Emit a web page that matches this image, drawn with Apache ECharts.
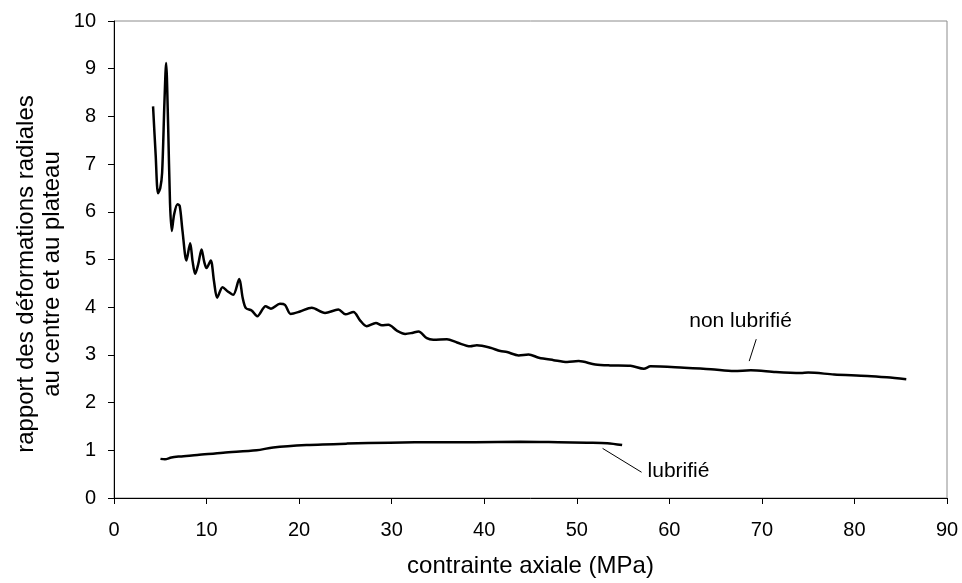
<!DOCTYPE html>
<html>
<head>
<meta charset="utf-8">
<script src="https://cdn.jsdelivr.net/npm/echarts@6/dist/echarts.min.js"></script>
<style>
html,body{margin:0;padding:0;background:#fff;}
#chart{width:962px;height:583px;}
</style>
</head>
<body>
<div id="chart"></div>
<script>
// Tick settings
var xTicks = [0, 10, 20, 30, 40, 50, 60, 70, 80, 90];
var yTicks = [0, 1, 2, 3, 4, 5, 6, 7, 8, 9, 10];

// Series: non lubrifié  [contrainte axiale (MPa), rapport]
var nonLubrifie = [
  [4.22,8.21],[4.5,7.2],[4.76,6.39],[5.0,6.5],[5.2,6.82],[5.45,8.3],[5.63,9.12],
  [5.85,7.8],[6.05,6.2],[6.24,5.6],[6.5,5.95],[6.86,6.16],[7.1,6.12],[7.4,5.6],
  [7.83,4.98],[8.23,5.34],[8.5,4.95],[8.77,4.70],[9.1,4.9],[9.46,5.21],[9.75,4.95],
  [10.0,4.82],[10.45,4.98],[10.8,4.55],[11.15,4.20],[11.73,4.42],[12.3,4.33],
  [12.88,4.26],[13.53,4.59],[13.9,4.2],[14.25,3.98],[14.87,3.93],[15.48,3.81],
  [16.38,4.02],[16.96,3.97],[17.93,4.07],[18.47,4.05],[19.09,3.86],[20.1,3.91],
  [21.36,3.99],[22.8,3.88],[24.24,3.95],[25.0,3.85],[25.87,3.90],[26.6,3.72],
  [27.3,3.60],[28.3,3.67],[28.94,3.62],[29.65,3.63],[30.56,3.51],[31.46,3.44],
  [32.2,3.46],[32.9,3.49],[33.8,3.35],[34.5,3.32],[35.97,3.33],[37.06,3.26],
  [38.5,3.18],[39.2,3.20],[40.66,3.15],[41.74,3.08],[42.46,3.06],[43.72,2.99],
  [44.8,3.01],[45.9,2.94],[47.5,2.89],[48.96,2.85],[50.2,2.87],[52.0,2.80],
  [53.6,2.78],[55.8,2.77],[57.25,2.71],[57.97,2.76],[61.6,2.73],[64.5,2.70],
  [67.0,2.66],[68.8,2.68],[71.5,2.64],[74.2,2.62],[75.0,2.63],[77.8,2.59],
  [81.4,2.56],[83.5,2.53],[85.6,2.49]
];

// Series: lubrifié
var lubrifie = [
  [5.02,0.82],[5.5,0.81],[6.2,0.85],[7.1,0.87],[9.0,0.90],[11.8,0.95],[15.4,1.00],
  [17.2,1.06],[20.8,1.11],[25.15,1.14],[29.8,1.16],[35.2,1.17],[39.0,1.17],
  [43.9,1.18],[48.0,1.17],[51.1,1.16],[53.3,1.15],[54.9,1.11]
];

// Annotations (data coordinates)
var labelNonLub = [67.7, 3.70];
var leaderNonLub = [[68.63, 2.87], [69.39, 3.33]];
var labelLub = [57.65, 0.555];
var leaderLub = [[52.79, 1.04], [57.0, 0.54]];

var FONT = "'Liberation Sans', Arial, sans-serif";

var chart = echarts.init(document.getElementById('chart'), null, {renderer: 'canvas'});
chart.setOption({
  animation: false,
  backgroundColor: '#ffffff',
  grid: {
    left: 114, right: 15, top: 21, bottom: 83,
    show: true, borderColor: '#8c8c8c', borderWidth: 1, backgroundColor: 'transparent'
  },
  xAxis: {
    type: 'value', min: xTicks[0], max: xTicks[xTicks.length - 1], interval: 10,
    name: 'contrainte axiale (MPa)', nameLocation: 'middle', nameGap: 56,
    nameTextStyle: {fontFamily: FONT, fontSize: 24, color: '#000'},
    axisLine: {show: true, lineStyle: {color: '#000', width: 1}},
    axisTick: {show: true, inside: false, length: 6, lineStyle: {color: '#000'}},
    axisLabel: {fontFamily: FONT, fontSize: 20, color: '#000', margin: 22},
    splitLine: {show: false}
  },
  yAxis: {
    type: 'value', min: yTicks[0], max: yTicks[yTicks.length - 1], interval: 1,
    axisLine: {show: true, lineStyle: {color: '#000', width: 1}},
    axisTick: {show: true, inside: false, length: 6, lineStyle: {color: '#000'}},
    axisLabel: {fontFamily: FONT, fontSize: 20, color: '#000', margin: 18},
    splitLine: {show: false}
  },
  series: [
    {
      name: 'non lubrifié', type: 'line', data: nonLubrifie, smooth: 0.3,
      symbol: 'none', lineStyle: {color: '#000', width: 2.5}, silent: true
    },
    {
      name: 'lubrifié', type: 'line', data: lubrifie, smooth: 0.3,
      symbol: 'none', lineStyle: {color: '#000', width: 2.5}, silent: true
    },
    {
      type: 'line', data: leaderNonLub, symbol: 'none', silent: true,
      lineStyle: {color: '#000', width: 1}
    },
    {
      type: 'line', data: leaderLub, symbol: 'none', silent: true,
      lineStyle: {color: '#000', width: 1}
    }
  ]
});

var pNon = chart.convertToPixel({gridIndex: 0}, labelNonLub);
var pLub = chart.convertToPixel({gridIndex: 0}, labelLub);
chart.setOption({
  graphic: [
    {
      type: 'text', x: 39, y: 274, rotation: Math.PI / 2,
      style: {
        text: 'rapport des déformations radiales\nau centre et au plateau',
        fontFamily: FONT, fontSize: 24, lineHeight: 26, fill: '#000',
        align: 'center', verticalAlign: 'middle'
      }
    },
    {
      type: 'text', x: pNon[0], y: pNon[1],
      style: {text: 'non lubrifié', fontFamily: FONT, fontSize: 21, fill: '#000',
        align: 'center', verticalAlign: 'middle'}
    },
    {
      type: 'text', x: pLub[0], y: pLub[1],
      style: {text: 'lubrifié', fontFamily: FONT, fontSize: 21, fill: '#000',
        align: 'left', verticalAlign: 'middle'}
    }
  ]
});
</script>
</body>
</html>
